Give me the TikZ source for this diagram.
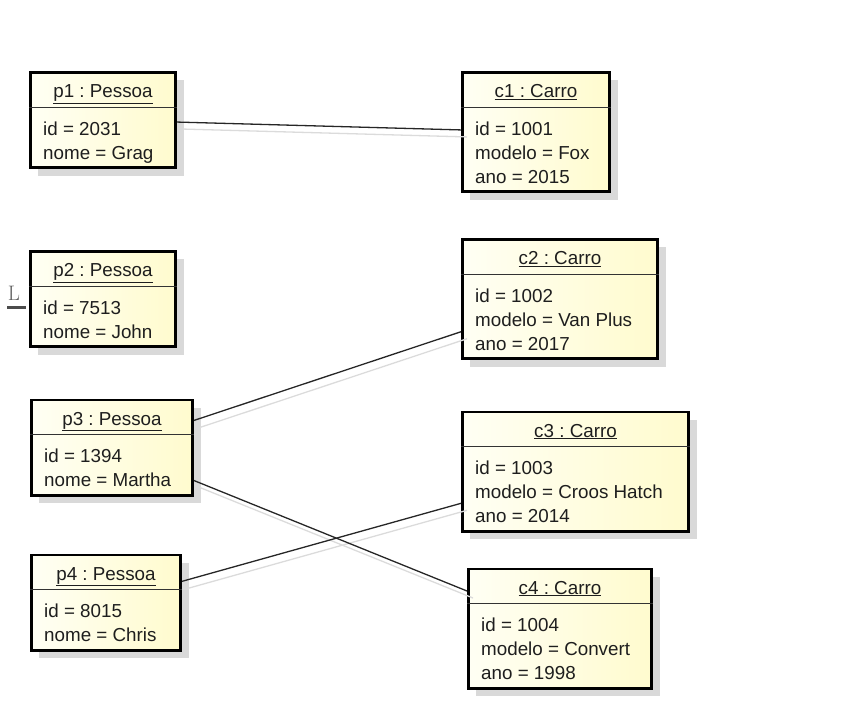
\documentclass[tikz,border=0pt]{standalone}
\usepackage{fontspec}
\setsansfont{Liberation Sans}
\usetikzlibrary{shadows}

\definecolor{fundoclaro}{RGB}{255,255,244}
\definecolor{fundoamarelo}{RGB}{255,251,206}
\definecolor{sombra}{RGB}{217,217,217}
\definecolor{texto}{RGB}{30,30,30}

\tikzset{
	objeto/.style={draw=black, line width=2.8, inner sep=0pt, left color=fundoclaro, right color=fundoamarelo,
		drop shadow={shadow xshift=8pt, shadow yshift=-8pt, fill=sombra, opacity=1}},
	pessoa/.style={objeto, minimum height=95.2},
	carro/.style={objeto, minimum height=119.2},
	titulo/.style={anchor=base, inner sep=0pt, text=texto},
	atributos/.style={anchor=north west, inner sep=0pt, align=left, text=texto},
	separador/.style={line width=1, black!80},
	ligacao/.style={line width=1.3, black!85},
	ligacaosombra/.style={line width=1.3, black!14, transform canvas={shift={(6pt,-7pt)}}}
}

\begin{document}
\frenchspacing
\begin{tikzpicture}[x=1pt, y=-1pt, font=\sffamily\fontsize{18.8}{24}\selectfont]
		\useasboundingbox (0,0) rectangle (847,716);
		
		% objetos
		\node[pessoa, minimum width=145.2] (p1) at (103,120) {};
		\node[pessoa, minimum width=145.2] (p2) at (103,299) {};
		\node[pessoa, minimum width=161.2] (p3) at (112,447.5) {};
		\node[pessoa, minimum width=149.2] (p4) at (106,602.5) {};
		\node[carro, minimum width=147.2] (c1) at (536,132) {};
		\node[carro, minimum width=195.2] (c2) at (560,299) {};
		\node[carro, minimum width=226.2] (c3) at (575.5,471.5) {};
		\node[carro, minimum width=183.2] (c4) at (560,628.5) {};
		
		\foreach \o/\t/\a in {
			p1/{p1 : Pessoa}/{id = 2031\\nome = Grag},
			p2/{p2 : Pessoa}/{id = 7513\\nome = John},
			p3/{p3 : Pessoa}/{id = 1394\\nome = Martha},
			p4/{p4 : Pessoa}/{id = 8015\\nome = Chris},
			c1/{c1 : Carro}/{id = 1001\\modelo = Fox\\ano = 2015},
			c2/{c2 : Carro}/{id = 1002\\modelo = Van Plus\\ano = 2017},
			c3/{c3 : Carro}/{id = 1003\\modelo = Croos Hatch\\ano = 2014},
			c4/{c4 : Carro}/{id = 1004\\modelo = Convert\\ano = 1998}}
		{
			\node[titulo] (\o-titulo) at ([yshift=-26.5pt]\o.north) {\underline{\t}};
			\draw[separador] ([yshift=-36pt]\o.north west) -- ([yshift=-36pt]\o.north east);
			\node[atributos] (\o-atrib) at ([xshift=14pt,yshift=-47pt]\o.north west) {\strut\a};
		}
		
		% marca ao lado de p2
		\node[font=\rmfamily\fontsize{21}{21}\selectfont, text=black!62, inner sep=0pt] (marca) at (14,293.5) {L};
		\draw[line width=3, black!70] (7,307) -- (26,307);
		
		% ligacoes
		\foreach \a/\b in {p1/c1, p3/c2, p3/c4, p4/c3}
		\draw[ligacaosombra] (\a) -- (\b);
		\foreach \a/\b in {p1/c1, p3/c2, p3/c4, p4/c3}
		\draw[ligacao] (\a) -- (\b);
	\end{tikzpicture}
\end{document}
